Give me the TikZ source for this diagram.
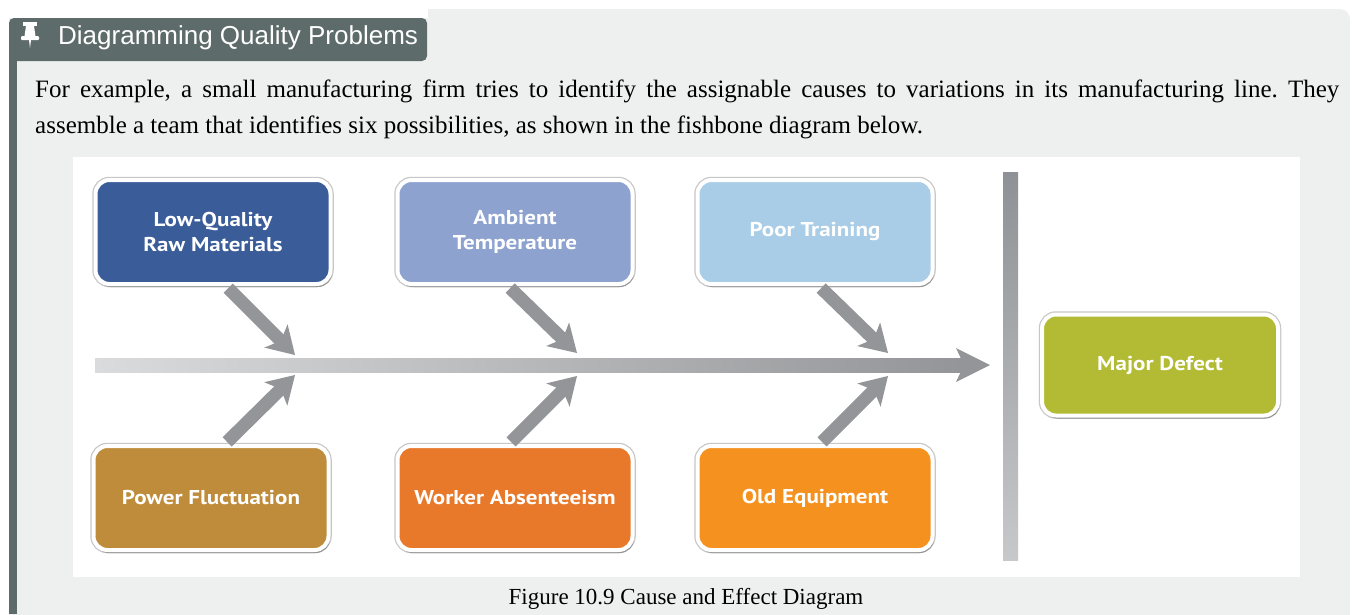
\documentclass[tikz,border=0pt]{standalone}
\usepackage{fontspec}
\setmainfont{Liberation Serif}
\newfontfamily\headfont{Liberation Sans}
\newfontfamily\causefont{PT Sans}[FakeStretch=1.15]
\usetikzlibrary{arrows.meta,positioning,shadows,calc}
\definecolor{panelbg}{HTML}{EEF0F0}
\definecolor{tabgray}{HTML}{5E6B6B}
\definecolor{bonegray}{HTML}{939598}
\definecolor{spinelight}{HTML}{DADBDC}
\definecolor{bargray}{HTML}{8E9195}
\definecolor{rawblue}{HTML}{3A5C99}
\definecolor{ambblue}{HTML}{8DA2CF}
\definecolor{trainblue}{HTML}{A9CDE7}
\definecolor{powergold}{HTML}{BE8C3A}
\definecolor{workorange}{HTML}{E8792B}
\definecolor{equiporange}{HTML}{F5911F}
\definecolor{defectgreen}{HTML}{B2BB33}
\tikzset{
  cause/.style={rounded corners=14pt, draw=white, line width=4pt, text=white, align=center,
    font=\causefont\bfseries\fontsize{20}{25}\selectfont, minimum width=235pt, minimum height=104pt,
    preaction={draw=black!22, line width=6.5pt},
    drop shadow={shadow xshift=1.5pt, shadow yshift=-3pt, opacity=0.25, fill=black}},
  bone/.style={draw=bonegray, line width=13pt, shorten <=3pt,
    -{Stealth[length=27pt, width=33pt, inset=7pt, line width=0pt]}},
  spine/.style={draw=bonegray, line width=14pt,
    -{Stealth[length=34pt, width=34pt, inset=8pt, line width=0pt]}}
}
\frenchspacing

\begin{document}
\begin{tikzpicture}[x=1pt, y=-1pt]
  \useasboundingbox (0,0) rectangle (1359,614);
  % panel and heading tab
  \fill[panelbg, rounded corners=10pt] (9,640) -- (9,9) -- (1350,9) -- (1350,640);
  \fill[white] (9,0) rectangle (428,18);
  \fill[tabgray, rounded corners=5pt] (9,18) rectangle (427,61);
  \fill[tabgray] (9,50) rectangle (17,614);
  \fill[white] (23,22) rectangle (37,26);
  \fill[white] (26,26) -- (34,26) -- (35.5,36) -- (24.5,36) -- cycle;
  \fill[white, rounded corners=1pt] (21,36) rectangle (39,40);
  \fill[white] (29,40) -- (31,40) -- (30,48) -- cycle;
  \node[anchor=base west, inner sep=0pt, text=white, font=\headfont\fontsize{26}{30}\selectfont] (title) at (58,44) {Diagramming Quality Problems};
  \node[anchor=north west, inner sep=0pt, text width=1304pt, align=justify, font=\fontsize{25}{36}\selectfont] (intro) at (35,80) {For example, a small manufacturing firm tries to identify the assignable causes to variations in its manufacturing line. They\linebreak assemble a team that identifies six possibilities, as shown in the fishbone diagram below.};

  % figure
  \fill[white] (73,157) rectangle (1300,577);
  \coordinate (tail) at (95,365);
  \coordinate (head) at (990,365);
  \draw[spine] (tail) -- (head);
  \shade[left color=spinelight, middle color=bonegray!80!white, right color=bonegray] ($(tail)+(0,-7)$) rectangle ($(head)+(-27,7)$);
  \shade[top color=bargray, bottom color=bargray!50] (1003,172) rectangle (1018,560);

  \node[cause, fill=rawblue] (raw) at (213,232) {Low-Quality\\Raw Materials};
  \node[cause, fill=ambblue] (ambient) at (515,232) {Ambient\\Temperature};
  \node[cause, fill=trainblue] (training) at (815,232) {Poor Training};
  \node[cause, fill=powergold] (power) at (211,498) {Power Fluctuation};
  \node[cause, fill=workorange] (absent) at (515,498) {Worker Absenteeism};
  \node[cause, fill=equiporange] (equip) at (815,498) {Old Equipment};
  \node[cause, fill=defectgreen, minimum width=236pt, minimum height=101pt] (defect) at (1160,365) {Major Defect};

  \coordinate (t1) at (295,355);
  \coordinate (t2) at (577,353);
  \coordinate (t3) at (888,353);
  \coordinate (b1) at (295,375);
  \coordinate (b2) at (577,376);
  \coordinate (b3) at (888,376);
  \draw[bone] ([xshift=13pt]raw.south) -- (t1);
  \draw[bone] ([xshift=-7pt]ambient.south) -- (t2);
  \draw[bone] ([xshift=4pt]training.south) -- (t3);
  \draw[bone] ([xshift=14pt]power.north) -- (b1);
  \draw[bone] ([xshift=-6pt]absent.north) -- (b2);
  \draw[bone] ([xshift=5pt]equip.north) -- (b3);

  \node[anchor=base, font=\fontsize{23}{28}\selectfont] (caption) at (686,604) {Figure 10.9 Cause and Effect Diagram};
\end{tikzpicture}
\end{document}
